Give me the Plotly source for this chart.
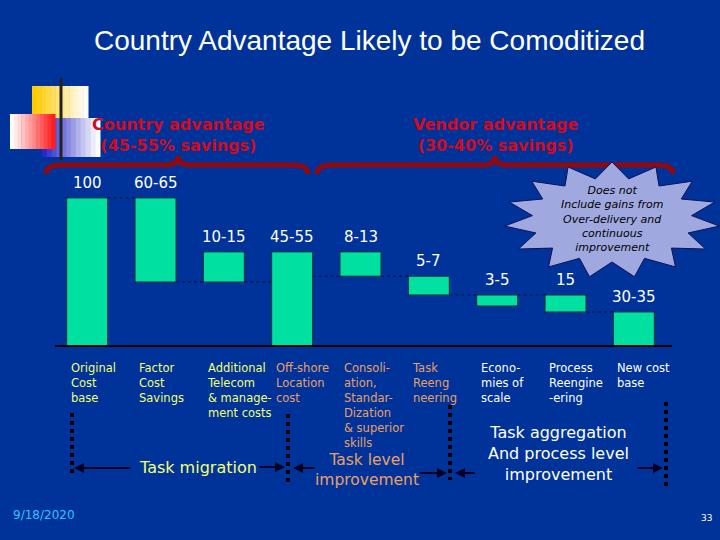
import numpy as np
import plotly.graph_objects as go

# waterfall steps (cost index, original base = 100)
categories = [
    "Original<br>Cost<br>base",
    "Factor<br>Cost<br>Savings",
    "Additional<br>Telecom<br>& manage-<br>ment costs",
    "Off-shore<br>Location<br>cost",
    "Consoli-<br>ation,<br>Standar-<br>Dization<br>& superior<br>skills",
    "Task<br>Reeng<br>neering",
    "Econo-<br>mies of<br>scale",
    "Process<br>Reengine<br>-ering",
    "New cost<br>base",
]
category_group = ["migration", "migration", "migration", "task", "task", "task",
                  "process", "process", "process"]
bar_low = [0, 43.6, 43.6, 0, 47.5, 34.9, 27.5, 23.5, 0]
bar_high = [100, 100, 63.8, 63.8, 63.8, 47.5, 34.9, 34.9, 23.5]
value_labels = ["100", "60-65", "10-15", "45-55", "8-13", "5-7", "3-5", "15", "30-35"]
link_level = [100, 43.6, 43.6, 47.5, 47.5, 34.9, 34.9, 23.5]

BG = "#003399"
BAR = "#00E0A0"
group_colors = {"migration": "#F2FF70", "task": "#E8A066", "process": "white"}
W, H = 720, 540


def P(x):
    return x / W


def Q(y):
    return 1 - y / H


fig = go.Figure()

fig.add_trace(go.Bar(
    x=list(range(len(categories))),
    y=[h - l for h, l in zip(bar_high, bar_low)],
    base=bar_low,
    width=0.6,
    marker=dict(color=BAR, line=dict(color="#003333", width=1)),
    hoverinfo="skip",
))

for i, lvl in enumerate(link_level):
    fig.add_trace(go.Scatter(
        x=[i + 0.3, i + 0.7], y=[lvl, lvl], mode="lines",
        line=dict(color="#001133", width=1, dash="dot"), hoverinfo="skip",
    ))

ann = []
for i, (txt, top) in enumerate(zip(value_labels, bar_high)):
    ann.append(dict(x=i, y=top, xref="x", yref="y", text=txt, showarrow=False,
                    xanchor="center", yanchor="bottom", yshift=4,
                    font=dict(family="DejaVu Sans", size=15, color="white")))

for i, (txt, grp) in enumerate(zip(categories, category_group)):
    ann.append(dict(x=i - 0.27, y=Q(359), xref="x", yref="paper", text=txt,
                    showarrow=False, xanchor="left", yanchor="top", align="left",
                    font=dict(family="DejaVu Sans", size=11.5, color=group_colors[grp])))

# free text
def txt(x, y, s, size, color, family="DejaVu Sans", **kw):
    ann.append(dict(x=P(x), y=Q(y), xref="paper", yref="paper", text=s,
                    xanchor="center", yanchor="middle", showarrow=False,
                    font=dict(family=family, size=size, color=color, **kw)))


txt(370, 40, "Country Advantage Likely to be Comoditized", 28, "white", "Liberation Sans")
txt(178, 135, "<b>Country advantage<br>(45-55% savings)</b>", 16, "#D20A1E")
txt(495, 135, "<b>Vendor advantage<br>(30-40% savings)</b>", 16, "#D20A1E")
txt(198, 467, "Task migration", 16, group_colors["migration"])
txt(367, 470, "Task level<br>improvement", 15.5, group_colors["task"])
txt(558, 453, "Task aggregation<br>And process level<br>improvement", 16, "white")
txt(612, 219, "Does not<br>Include gains from<br>Over-delivery and<br>continuous<br>improvement",
    11, "black", style="italic")
txt(44, 515, "9/18/2020", 12, "#33C4FF")
txt(706, 518, "33", 9, "white")

# arrows: (tail_x, head_x, y)
for tx, hx, y in [(132, 74, 468), (258, 285, 467), (316, 293, 468),
                  (418, 447, 473), (476, 455, 473), (636, 663, 468)]:
    ann.append(dict(x=P(hx), y=Q(y), ax=tx - hx, ay=0, xref="paper", yref="paper",
                    text="", showarrow=True,
                    arrowhead=2, arrowsize=1, arrowwidth=2, arrowcolor="#000022"))

shapes = []
# baseline
shapes.append(dict(type="line", xref="paper", yref="y", x0=P(55), x1=P(672), y0=0, y1=0,
                   line=dict(color="black", width=4)))
# dotted separators
for x, y0, y1 in [(72, 413, 477), (288, 414, 483), (450, 405, 480), (666, 402, 488)]:
    shapes.append(dict(type="line", xref="paper", yref="paper", x0=P(x), x1=P(x),
                       y0=Q(y0), y1=Q(y1), line=dict(color="black", width=4, dash="dot")))


# braces
def brace(x0, x1, xm, ye, ym, yt):
    pts = [(x0, ye), (x0, ym), (x0 + 15, ym), (xm - 12, ym), (xm, ym), (xm, yt),
           (xm, ym), (xm + 12, ym), (x1 - 15, ym), (x1, ym), (x1, ye)]
    p = [(P(a), Q(b)) for a, b in pts]
    return (f"M {p[0][0]},{p[0][1]} Q {p[1][0]},{p[1][1]} {p[2][0]},{p[2][1]} "
            f"L {p[3][0]},{p[3][1]} Q {p[4][0]},{p[4][1]} {p[5][0]},{p[5][1]} "
            f"Q {p[6][0]},{p[6][1]} {p[7][0]},{p[7][1]} L {p[8][0]},{p[8][1]} "
            f"Q {p[9][0]},{p[9][1]} {p[10][0]},{p[10][1]}")


for b in [(46, 308, 178, 174, 165, 156), (317, 673, 495, 174, 165, 156)]:
    shapes.append(dict(type="path", xref="paper", yref="paper", path=brace(*b),
                       line=dict(color="#8E0A10", width=5)))


# corner decoration (gradient squares)
def grad_rect(x0, x1, y0, y1, c0, c1, n=12):
    c0, c1 = np.array(c0), np.array(c1)
    for k in range(n):
        c = c0 + (c1 - c0) * k / (n - 1)
        a = x0 + (x1 - x0) * k / n
        b = x0 + (x1 - x0) * (k + 1) / n
        shapes.append(dict(type="rect", xref="paper", yref="paper",
                           x0=P(a), x1=P(b + 0.5), y0=Q(y1), y1=Q(y0),
                           fillcolor="rgb(%d,%d,%d)" % tuple(c), line=dict(width=0)))


grad_rect(32, 88, 86, 120, (255, 204, 0), (255, 255, 255))
grad_rect(42, 100, 118, 157, (40, 40, 200), (255, 255, 255))
grad_rect(10, 55, 114, 149, (255, 255, 255), (255, 30, 30))
shapes.append(dict(type="line", xref="paper", yref="paper", x0=P(61), x1=P(61),
                   y0=Q(78), y1=Q(160), line=dict(color="#222222", width=3)))

# starburst
n = 15
ang = np.linspace(np.pi / 2, np.pi / 2 + 2 * np.pi, 2 * n, endpoint=False)
rx = np.where(np.arange(2 * n) % 2 == 0, 108, 80)
ry = np.where(np.arange(2 * n) % 2 == 0, 58, 42)
sx = 612 + rx * np.cos(ang)
sy = 220 - ry * np.sin(ang)
star = "M " + " L ".join(f"{P(a)},{Q(b)}" for a, b in zip(sx, sy)) + " Z"
shapes.append(dict(type="path", xref="paper", yref="paper", path=star,
                   fillcolor="#A0A8E0", line=dict(color="#10105A", width=1)))

fig.update_layout(
    width=W, height=H, autosize=False,
    margin=dict(l=0, r=0, t=0, b=0),
    paper_bgcolor=BG, plot_bgcolor=BG,
    showlegend=False,
    xaxis=dict(domain=[P(53), P(668)], range=[-0.5, 8.5], visible=False),
    yaxis=dict(domain=[Q(347), Q(183)], range=[0, 110], visible=False),
    annotations=ann,
    shapes=shapes,
)

fig.write_html("out.html", config={"displayModeBar": False},
               post_script="document.body.style.margin='0';"
               "document.body.style.overflow='hidden';")
